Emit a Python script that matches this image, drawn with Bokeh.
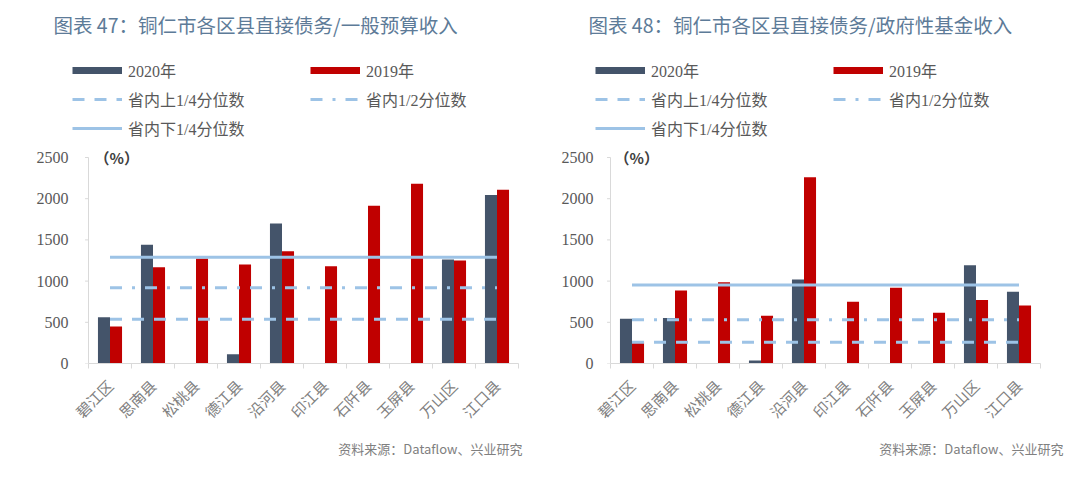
import numpy as np
from bokeh.plotting import figure
from bokeh.models import Range1d, FixedTicker, Legend, LegendItem, Label, Title
from bokeh.layouts import row
from bokeh.embed import file_html
from bokeh.resources import INLINE

districts = ["碧江区", "思南县", "松桃县", "德江县", "沿河县", "印江县", "石阡县", "玉屏县", "万山区", "江口县"]

# 图表47：直接债务/一般预算收入 (%)
general_2020 = [560, 1440, None, 113, 1700, None, None, None, 1262, 2045]
general_2019 = [450, 1168, 1275, 1200, 1363, 1180, 1915, 2180, 1250, 2110]
general_q_upper = 538
general_q_mid = 920
general_q_lower = 1290

# 图表48：直接债务/政府性基金收入 (%)
fund_2020 = [542, 552, None, 35, 1019, None, None, None, 1193, 872]
fund_2019 = [270, 886, 987, 579, 2261, 748, 920, 615, 770, 704]
fund_q_upper = 259
fund_q_mid = 530
fund_q_lower = 952

y_ticks = [0, 500, 1000, 1500, 2000, 2500]
series_labels = ["2020年", "2019年", "省内上1/4分位数", "省内1/2分位数", "省内下1/4分位数"]
source_text = "资料来源：Dataflow、兴业研究"

C2020 = "#44546A"
C2019 = "#C00000"
CLINE = "#9DC3E6"
CAXIS = "#D9D9D9"
SERIF = "Liberation Serif, Noto Sans CJK SC"
CJK = "Noto Sans CJK SC"

FIG_W, FIG_H = 540, 479
FRAME_TOP = 45          # px from top of figure
AXIS_Y_PX = 363         # y = 0
TOP_TICK_PX = 157       # y = 2500
CAT_PX = 43             # px per category


def to_arr(v):
    return np.array([np.nan if x is None else x for x in v], dtype=float)


def make_panel(title, v20, v19, q_up, q_mid, q_low,
               frame_left, axis_x, right, title_left, src_right, leg_left, pct_left):
    n = len(districts)
    px_per_unit = (AXIS_Y_PX - TOP_TICK_PX) / y_ticks[-1]
    y_end = (AXIS_Y_PX - FRAME_TOP) / px_per_unit
    x_start = -(axis_x - frame_left) / CAT_PX
    p = figure(width=FIG_W, height=FIG_H, output_backend="svg", toolbar_location=None,
               title_location=None,
               x_range=Range1d(x_start, n), y_range=Range1d(0, y_end),
               min_border_left=frame_left, min_border_right=right,
               min_border_top=FRAME_TOP, min_border_bottom=FIG_H - AXIS_Y_PX)
    p.outline_line_color = None
    p.xgrid.visible = False
    p.ygrid.visible = False
    p.background_fill_color = "white"
    p.border_fill_color = "white"

    xc = np.arange(n) + 0.5
    w = 0.28
    a20 = to_arr(v20)
    a19 = to_arr(v19)
    p.vbar(x=xc - w / 2, top=a20, width=w, bottom=0, fill_color=C2020, line_color=None)
    p.vbar(x=xc + w / 2, top=a19, width=w, bottom=0, fill_color=C2019, line_color=None)
    l_low = p.line(xc, [q_low] * n, line_color=CLINE, line_width=3)
    l_mid = p.line(xc, [q_mid] * n, line_color=CLINE, line_width=3, line_dash="12 10 3 10")
    l_up = p.line(xc, [q_up] * n, line_color=CLINE, line_width=3, line_dash="12 10")
    # legend swatches for the bar series (thick strokes as in the original legend;
    # NaN values so nothing is drawn in the plot area)
    s20 = p.line(x=xc, y=a20 * np.nan, line_color=C2020, line_width=7)
    s19 = p.line(x=xc, y=a19 * np.nan, line_color=C2019, line_width=7)

    # y axis line and ticks at x = 0
    p.segment(x0=0, y0=y_ticks[0], x1=0, y1=y_ticks[-1], line_color=CAXIS, line_width=1)
    p.segment(x0=[-0.08] * len(y_ticks), y0=y_ticks, x1=[0] * len(y_ticks), y1=y_ticks,
              line_color=CAXIS, line_width=1)

    # x axis
    xa = p.xaxis[0]
    xa.bounds = (0, n)
    xa.ticker = FixedTicker(ticks=list(xc), minor_ticks=list(range(n + 1)))
    xa.major_label_overrides = {float(x): d for x, d in zip(xc, districts)}
    xa.major_label_orientation = np.pi / 4
    xa.major_tick_out = 0
    xa.major_tick_in = 0
    xa.minor_tick_out = 5
    xa.minor_tick_in = 0
    xa.minor_tick_line_color = CAXIS
    xa.axis_line_color = CAXIS
    xa.major_label_text_font = CJK
    xa.major_label_text_font_size = "15px"
    xa.major_label_text_color = "#808080"
    xa.major_label_standoff = 14

    # y axis (labels only; line drawn above at x = 0)
    ya = p.yaxis[0]
    ya.ticker = FixedTicker(ticks=y_ticks)
    ya.axis_line_color = None
    ya.major_tick_line_color = None
    ya.major_tick_out = 0
    ya.major_tick_in = 0
    ya.minor_tick_out = 0
    ya.minor_tick_in = 0
    ya.major_label_text_font = SERIF
    ya.major_label_text_font_size = "16px"
    ya.major_label_text_color = "#595959"
    ya.major_label_standoff = 2

    legend = Legend(items=[
        LegendItem(label=series_labels[0], renderers=[s20]),
        LegendItem(label=series_labels[1], renderers=[s19]),
        LegendItem(label=series_labels[2], renderers=[l_up]),
        LegendItem(label=series_labels[3], renderers=[l_mid]),
        LegendItem(label=series_labels[4], renderers=[l_low]),
    ], location=(leg_left, AXIS_Y_PX - 140), orientation="horizontal", ncols=2,
        glyph_width=50, glyph_height=8, label_standoff=6, label_width=177,
        label_height=20, spacing=5, padding=0, margin=0,
        label_text_font=SERIF, label_text_font_size="16px", label_text_color="#595959",
        border_line_color=None, background_fill_alpha=0)
    p.add_layout(legend)

    p.add_layout(Title(text=title, align="left", offset=title_left, standoff=14,
                       text_font=CJK, text_font_size="19.5px", text_font_style="normal",
                       text_color="#5D7B98"), "above")

    p.add_layout(Title(text=source_text, align="right", offset=src_right, standoff=8,
                       text_font=CJK, text_font_size="13px", text_font_style="normal",
                       text_color="#808080"), "below")

    p.add_layout(Label(x=pct_left, y=AXIS_Y_PX - TOP_TICK_PX, x_units="screen", y_units="screen",
                       text="（%）", text_align="left", text_baseline="middle",
                       text_font=CJK, text_font_size="15px", text_color="#404040",
                       text_font_style="bold"))
    return p


p1 = make_panel("图表 47：铜仁市各区县直接债务/一般预算收入", general_2020, general_2019,
                general_q_upper, general_q_mid, general_q_lower,
                70, 88, 22, -17, -4, 2, 24)
p2 = make_panel("图表 48：铜仁市各区县直接债务/政府性基金收入", fund_2020, fund_2019,
                fund_q_upper, fund_q_mid, fund_q_lower,
                55, 70, 40, -7, -23, 0, 19)

layout = row(p1, p2)
open("out.html", "w").write(file_html(layout, INLINE))
